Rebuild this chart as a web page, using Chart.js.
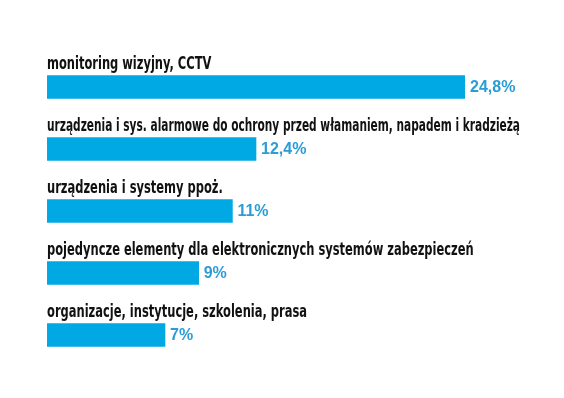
<!DOCTYPE html>
<html>
<head>
<meta charset="utf-8">
<script src="https://cdn.jsdelivr.net/npm/chart.js@4"></script>
<style>
  html, body { margin: 0; padding: 0; background: #fff; }
  #wrap { width: 564px; height: 398px; position: relative; }
</style>
</head>
<body>
<div id="wrap"><canvas id="wykres"></canvas></div>
<script>
// Kategorie i wartości (%)
const kategorie = [
  "monitoring wizyjny, CCTV",
  "urządzenia i sys. alarmowe do ochrony przed włamaniem, napadem i kradzieżą",
  "urządzenia i systemy ppoż.",
  "pojedyncze elementy dla elektronicznych systemów zabezpieczeń",
  "organizacje, instytucje, szkolenia, prasa"
];
const wartosci = [24.8, 12.4, 11, 9, 7];
const etykietyWartosci = ["24,8%", "12,4%", "11%", "9%", "7%"];

const niebieski = "#00a8e4";
const fontNazwy = "bold 17px 'DejaVu Sans Condensed', sans-serif";
const fontWartosci = "bold 16px 'Liberation Sans', Arial, sans-serif";
const scisk = 0.75;

// Podpisy nad słupkami i wartości obok
const podpisy = {
  id: "podpisy",
  afterDatasetsDraw(chart) {
    const ctx = chart.ctx;
    const meta = chart.getDatasetMeta(0);
    const maxSzer = (chart.chartArea.right + 55 - chart.chartArea.left) / scisk;
    meta.data.forEach((bar, i) => {
      const gora = bar.y - bar.height / 2;
      // węższy krój, jak w oryginale
      ctx.save();
      ctx.font = fontNazwy;
      ctx.fillStyle = "#111";
      ctx.textAlign = "left";
      ctx.textBaseline = "alphabetic";
      ctx.translate(bar.base, gora - 7);
      ctx.scale(scisk, 1);
      ctx.fillText(kategorie[i], 0, 0, maxSzer);
      ctx.restore();

      ctx.save();
      ctx.font = fontWartosci;
      ctx.fillStyle = "#2a9dd6";
      ctx.textBaseline = "middle";
      ctx.fillText(etykietyWartosci[i], bar.x + 5, bar.y + 1);
      ctx.restore();
    });
  }
};

new Chart(document.getElementById("wykres"), {
  type: "bar",
  data: {
    labels: kategorie,
    datasets: [{
      data: wartosci,
      backgroundColor: niebieski,
      barThickness: 23
    }]
  },
  options: {
    indexAxis: "y",
    responsive: true,
    maintainAspectRatio: false,
    animation: false,
    layout: { padding: { left: 47, right: 99, top: 56, bottom: 32 } },
    plugins: { legend: { display: false }, tooltip: { enabled: false } },
    scales: {
      x: { display: false, min: 0, max: 24.8 },
      y: { display: false }
    }
  },
  plugins: [podpisy]
});
</script>
</body>
</html>
